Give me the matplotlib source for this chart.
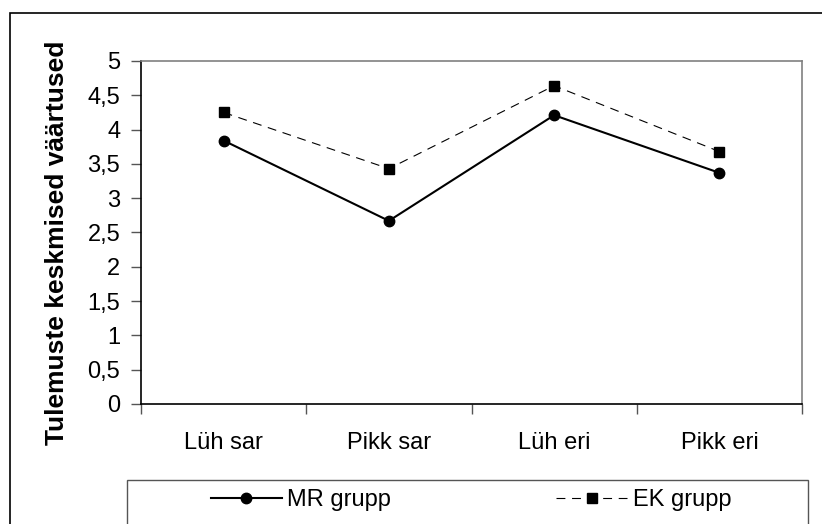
import matplotlib
matplotlib.use("Agg")
import matplotlib.pyplot as plt
from matplotlib.patches import Rectangle
from matplotlib.ticker import FixedLocator, FuncFormatter

plt.rcParams['font.family'] = ['Liberation Sans', 'DejaVu Sans']

categories = ["Lüh sar", "Pikk sar", "Lüh eri", "Pikk eri"]
mr_values = [3.84, 2.67, 4.21, 3.37]
ek_values = [4.25, 3.43, 4.64, 3.68]
series_names = ["MR grupp", "EK grupp"]
y_label = "Tulemuste keskmised väärtused"
y_ticks = [0, 0.5, 1, 1.5, 2, 2.5, 3, 3.5, 4, 4.5, 5]

W, H = 822, 524
FS = 17
fig = plt.figure(figsize=(W / 100, H / 100), dpi=100)

# outer chart border (extends beyond the image on right/bottom)
fig.patches.append(Rectangle((10 / W, -0.2), 1.2, 1 - 13 / H + 0.2,
                             transform=fig.transFigure, fill=False,
                             edgecolor='black', linewidth=1.2))

left, right, top, bottom = 141, 802, 61, 404
ax = fig.add_axes([left / W, 1 - bottom / H, (right - left) / W, (bottom - top) / H])

x = list(range(len(categories)))
l1, = ax.plot(x, mr_values, color='black', linewidth=1.5, marker='o',
              markersize=7.5, label=series_names[0])
l2, = ax.plot(x, ek_values, color='black', linewidth=0.8, linestyle=(0, (8, 6)),
              marker='s', markersize=7.5, label=series_names[1])

ax.set_xlim(-0.5, len(categories) - 0.5)
ax.set_ylim(0, 5)
ax.set_yticks(y_ticks)
ax.yaxis.set_major_formatter(FuncFormatter(lambda v, p: (f"{v:g}").replace('.', ',')))
ax.set_xticks(x)
ax.set_xticklabels(categories)
ax.xaxis.set_minor_locator(FixedLocator([i - 0.5 for i in range(len(categories) + 1)]))
ax.tick_params(axis='x', which='major', length=0, pad=20, labelsize=FS)
ax.tick_params(axis='x', which='minor', length=7, width=1, color='#555555', direction='out')
ax.tick_params(axis='y', length=7, width=1, color='#555555', direction='out', labelsize=FS, pad=8)

for s in ['top', 'right']:
    ax.spines[s].set_color('#808080')
    ax.spines[s].set_linewidth(1.2)
for s in ['left', 'bottom']:
    ax.spines[s].set_color('black')
    ax.spines[s].set_linewidth(1.2)

fig.text(57 / W, 1 - 243 / H, y_label, rotation=90, ha='center', va='center',
         fontsize=19, fontweight='bold')

# legend box (extends beyond bottom of image)
fig.patches.append(Rectangle((127 / W, -0.2), (808 - 127) / W, 0.2 + 1 - 480 / H,
                             transform=fig.transFigure, fill=False,
                             edgecolor='#555555', linewidth=1.0))
leg1 = fig.legend([l1], [series_names[0]], loc='center',
                  bbox_to_anchor=(301 / W, 1 - 500 / H), frameon=False,
                  fontsize=FS, handlelength=3.0, handletextpad=0.25)
leg2 = fig.legend([l2], [series_names[1]], loc='center',
                  bbox_to_anchor=(644 / W, 1 - 500 / H), frameon=False,
                  fontsize=FS, handlelength=3.0, handletextpad=0.25)

fig.savefig("out.png", dpi=100)
